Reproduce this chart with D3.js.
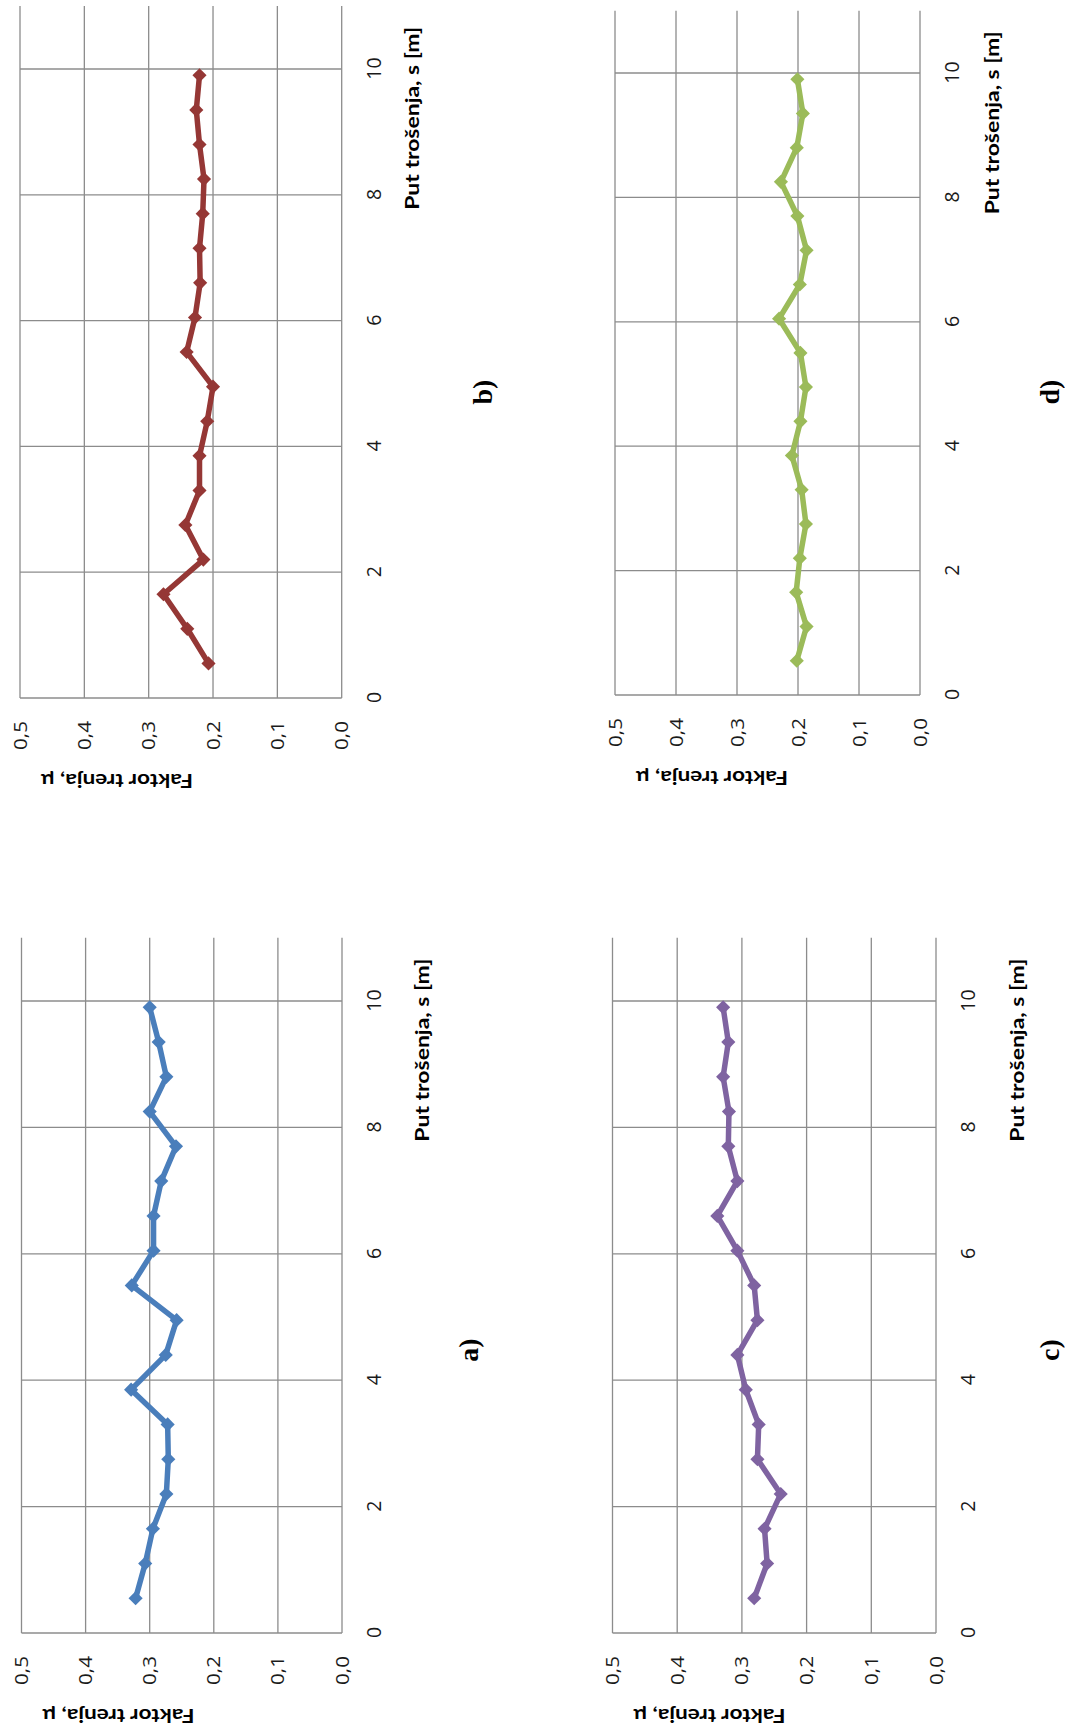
<!DOCTYPE html>
<html>
<head>
<meta charset="utf-8">
<script src="https://cdn.jsdelivr.net/npm/d3@7"></script>
<style>
  html, body { margin: 0; padding: 0; background: #fff; }
  svg { display: block; }
</style>
</head>
<body>
<svg id="fig" width="1065" height="1733"></svg>
<script>
// ---------------- data ----------------
const distance = [0.55, 1.10, 1.65, 2.20, 2.75, 3.30, 3.85, 4.40, 4.95, 5.50, 6.05, 6.60, 7.15, 7.70, 8.25, 8.80, 9.35, 9.90];
const muA = [0.322, 0.307, 0.295, 0.274, 0.271, 0.272, 0.329, 0.275, 0.258, 0.328, 0.294, 0.294, 0.282, 0.259, 0.300, 0.274, 0.286, 0.300];
const muB = [0.207, 0.240, 0.277, 0.215, 0.243, 0.221, 0.221, 0.209, 0.200, 0.241, 0.228, 0.220, 0.221, 0.216, 0.214, 0.221, 0.226, 0.221];
const muC = [0.281, 0.261, 0.265, 0.240, 0.276, 0.274, 0.294, 0.307, 0.276, 0.281, 0.307, 0.338, 0.307, 0.321, 0.320, 0.329, 0.321, 0.329];
const muD = [0.202, 0.186, 0.203, 0.197, 0.187, 0.194, 0.210, 0.196, 0.187, 0.196, 0.231, 0.197, 0.186, 0.201, 0.228, 0.202, 0.192, 0.201];
const distanceTicks = [0, 2, 4, 6, 8, 10];
const distanceTickLabels = ["0", "2", "4", "6", "8", "10"];
const muTicks = [0, 0.1, 0.2, 0.3, 0.4, 0.5];
const muTickLabels = ["0,0", "0,1", "0,2", "0,3", "0,4", "0,5"];
const panelLetters = ["a)", "b)", "c)", "d)"];
const xTitle = "Put trošenja, s [m]";
const yTitle = "Faktor trenja, μ";
const xDomain = [0, 11];
const yDomain = [0, 0.5];

// ---------------- layout (unrotated frame: u along distance, v along mu) ----------------
const W = 1065, H = 1733;
const panels = [
  { series: muA, letter: panelLetters[0], color: "#4A7EBB", u0: 100,  unit: 63.2, vTop: 21.5,  vBot: 342,   xtOff: 87, letterU: 383,  letterV: 468 },
  { series: muB, letter: panelLetters[1], color: "#953735", u0: 1035, unit: 62.9, vTop: 20,    vBot: 341.7, xtOff: 77, letterU: 1341, letterV: 482 },
  { series: muC, letter: panelLetters[2], color: "#7F63A1", u0: 100,  unit: 63.2, vTop: 612.5, vBot: 936,   xtOff: 88, letterU: 383,  letterV: 1049 },
  { series: muD, letter: panelLetters[3], color: "#9BBB59", u0: 1038, unit: 62.2, vTop: 615,   vBot: 920,   xtOff: 79, letterU: 1341, letterV: 1049 }
];

const svg = d3.select("#fig");
svg.append("rect").attr("width", W).attr("height", H).attr("fill", "#fff");
// whole figure rotated 90° counter-clockwise
const root = svg.append("g").attr("transform", `translate(0,${H}) rotate(-90)`);

const gridColor = "#8C8C8C";
const tickFont = "'Open Sans', Lato, sans-serif";
const titleFont = "Lato, 'Open Sans', sans-serif";

panels.forEach(p => {
  const x = d3.scaleLinear().domain(xDomain).range([p.u0, p.u0 + (xDomain[1] - xDomain[0]) * p.unit]);
  const y = d3.scaleLinear().domain(yDomain).range([p.vBot, p.vTop]);
  const g = root.append("g");

  // horizontal gridlines (mu)
  g.append("g").selectAll("line").data(muTicks).join("line")
    .attr("x1", x(xDomain[0])).attr("x2", x(xDomain[1]))
    .attr("y1", d => y(d)).attr("y2", d => y(d))
    .attr("stroke", gridColor).attr("stroke-width", 1.3);
  // vertical gridlines (distance)
  g.append("g").selectAll("line").data(distanceTicks).join("line")
    .attr("x1", d => x(d)).attr("x2", d => x(d))
    .attr("y1", y(yDomain[0])).attr("y2", y(yDomain[1]))
    .attr("stroke", gridColor).attr("stroke-width", 1.3);

  // y axis labels
  const ya = g.append("g").attr("transform", `translate(${x(0)},0)`)
    .call(d3.axisLeft(y).tickValues(muTicks).tickFormat((d, i) => muTickLabels[i]).tickSize(0).tickPadding(23));
  ya.select(".domain").remove();
  ya.selectAll("text").attr("font-family", tickFont).attr("font-size", 19).attr("fill", "#1a1a1a")
    .attr("textLength", 29).attr("lengthAdjust", "spacingAndGlyphs");

  // x axis labels
  const xa = g.append("g").attr("transform", `translate(0,${y(0)})`)
    .call(d3.axisBottom(x).tickValues(distanceTicks).tickFormat((d, i) => distanceTickLabels[i]).tickSize(0));
  xa.select(".domain").remove();
  xa.selectAll("text").attr("y", 32).attr("dy", "0.36em")
    .attr("font-family", tickFont).attr("font-size", 19.5).attr("fill", "#1a1a1a");

  // x title
  g.append("text")
    .attr("x", x(10.67)).attr("y", p.vBot + p.xtOff)
    .attr("text-anchor", "end")
    .attr("font-family", titleFont).attr("font-weight", "bold").attr("font-size", 18.5)
    .attr("textLength", 183).attr("lengthAdjust", "spacingAndGlyphs")
    .attr("fill", "#000").text(xTitle);

  // y title
  g.append("text")
    .attr("transform", `translate(${p.u0 - 83},${p.vTop + 97}) rotate(-90)`)
    .attr("text-anchor", "middle").attr("dy", "0.36em")
    .attr("font-family", titleFont).attr("font-weight", "bold").attr("font-size", 18.5)
    .attr("textLength", 152).attr("lengthAdjust", "spacingAndGlyphs")
    .attr("fill", "#000").text(yTitle);

  // series line
  const pts = distance.map((d, i) => [d, p.series[i]]);
  g.append("path")
    .datum(pts)
    .attr("fill", "none")
    .attr("stroke", p.color)
    .attr("stroke-width", 5.5)
    .attr("stroke-linejoin", "round")
    .attr("stroke-linecap", "round")
    .attr("d", d3.line().x(d => x(d[0])).y(d => y(d[1])));

  // diamond markers
  g.append("g").selectAll("path").data(pts).join("path")
    .attr("transform", d => `translate(${x(d[0])},${y(d[1])}) rotate(45)`)
    .attr("d", d3.symbol(d3.symbolSquare, 100)())
    .attr("fill", p.color);

  // panel letter
  g.append("text")
    .attr("x", p.letterU).attr("y", p.letterV)
    .attr("dy", "0.35em")
    .attr("text-anchor", "middle")
    .attr("font-family", "'Liberation Serif', 'Times New Roman', serif")
    .attr("font-weight", "bold").attr("font-size", 28)
    .attr("fill", "#000").text(p.letter);
});
</script>
</body>
</html>
